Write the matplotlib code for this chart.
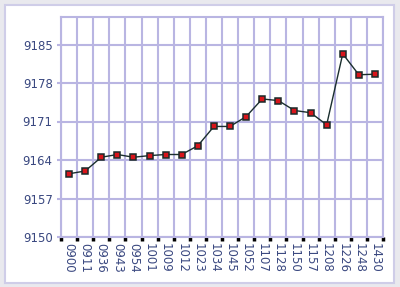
import numpy as np
import matplotlib
matplotlib.use('Agg')
from matplotlib import pyplot as plt
from matplotlib.patches import Rectangle

times = ['0900', '0911', '0936', '0943', '0954', '1001', '1009', '1012', '1023', '1034',
         '1045', '1052', '1107', '1128', '1150', '1157', '1208', '1226', '1248', '1430']
prices = [9161.5, 9162.0, 9164.5, 9165.0, 9164.5, 9164.8, 9165.0, 9165.0, 9166.6, 9170.1,
          9170.1, 9171.9, 9175.1, 9174.8, 9173.0, 9172.6, 9170.4, 9183.3, 9179.5, 9179.6]
y_ticks = [9150, 9157, 9164, 9171, 9178, 9185]

grid_col = '#b9b5e2'
text_col = '#3a4880'

W, H = 400, 287
fig = plt.figure(figsize=(W / 100, H / 100), dpi=100)
fig.patch.set_facecolor('#e9e9ee')
fig.patches.append(Rectangle((5 / W, 4 / H), 389 / W, 278 / H, transform=fig.transFigure,
                             facecolor='white', edgecolor='#cfcde8', linewidth=1.5, zorder=-1))

ax = fig.add_axes([61 / W, 50 / H, 322 / W, 220 / H])
ax.set_facecolor('white')

x = np.arange(len(times))
ax.plot(x, prices, color='#1a2e2e', linewidth=1.0, marker='s', markersize=4.5,
        markerfacecolor='#d8151b', markeredgecolor='#1a2a2a', markeredgewidth=1.1, zorder=3)

ax.set_xlim(-0.5, len(times) - 0.5)
ax.set_ylim(9150, 9190)

# gridlines sit on the category boundaries, labels in between
ax.set_xticks(np.arange(-0.5, len(times)), minor=False)
ax.set_xticklabels([])
ax.set_xticks(x, minor=True)
ax.set_xticklabels(times, minor=True, rotation=270, fontsize=8.5, color=text_col)
ax.tick_params(axis='x', which='major', length=3, width=2.5, color='black', direction='out')
ax.tick_params(axis='x', which='minor', length=0, pad=4)

ax.set_yticks(y_ticks)
ax.set_yticklabels([str(v) for v in y_ticks], fontsize=8.5, color=text_col)
ax.tick_params(axis='y', length=3, width=1.5, color=grid_col, pad=3)

ax.grid(True, which='major', color=grid_col, linewidth=1.5)
ax.set_axisbelow(True)
for s in ax.spines.values():
    s.set_color(grid_col)
    s.set_linewidth(1.5)

fig.savefig('out.png', dpi=100, facecolor=fig.get_facecolor())
